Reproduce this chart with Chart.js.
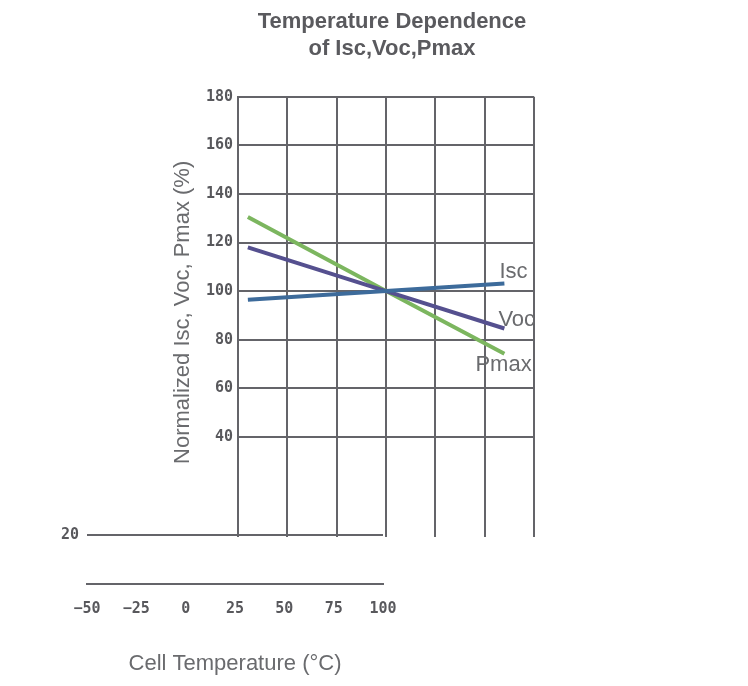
<!DOCTYPE html>
<html>
<head>
<meta charset="utf-8">
<script src="https://cdn.jsdelivr.net/npm/chart.js@4/dist/chart.umd.min.js"></script>
<style>
  html, body { margin: 0; padding: 0; background: #ffffff; }
  #wrap { position: relative; width: 748px; height: 686px; overflow: hidden; }
  canvas { position: absolute; left: 0; top: 0; }
</style>
</head>
<body>
<div id="wrap">
  <canvas id="main" width="748" height="686"></canvas>
  <canvas id="axis" width="748" height="686"></canvas>
</div>
<script>
// ---- data ----
const temperatures = [-45, 25, 85];
const iscValues  = [96.4, 100, 103.1];
const vocValues  = [118.0, 100, 84.6];
const pmaxValues = [130.5, 100, 74.2];
const seriesNames = ['Isc', 'Voc', 'Pmax'];
const yTicksShown = [40, 60, 80, 100, 120, 140, 160, 180];
const xTickLabels = [-50, -25, 0, 25, 50, 75, 100];
const titleLines = ['Temperature Dependence', 'of Isc,Voc,Pmax'];
const yTitle = ' Normalized Isc, Voc, Pmax (%)';
const xTitle = 'Cell Temperature (\u00B0C)';

// ---- styles ----
const GRID = '#646469';
const TICK_COLOR = '#58585c';
const TEXT_COLOR = '#6a6b6e';
const seriesColors = { Isc: '#3d6b9b', Voc: '#55508f', Pmax: '#7cb65f' };
const labelOffsets = { Isc: [-5, -12], Voc: [-6, -9], Pmax: [-29, 11] };
const tickFont = { family: 'DejaVu Sans Mono', size: 15, weight: 'bold' };
const textFamily = 'Liberation Sans, Arial, sans-serif';

const toPoints = vals => temperatures.map((t, i) => ({ x: t, y: vals[i] }));
const seriesValues = { Isc: iscValues, Voc: vocValues, Pmax: pmaxValues };

const endLabels = {
  id: 'endLabels',
  afterDatasetsDraw(chart) {
    const ctx = chart.ctx;
    ctx.save();
    ctx.font = '22px ' + textFamily;
    ctx.fillStyle = TEXT_COLOR;
    ctx.textAlign = 'left';
    ctx.textBaseline = 'middle';
    chart.data.datasets.forEach((ds, i) => {
      const meta = chart.getDatasetMeta(i);
      const last = meta.data[meta.data.length - 1];
      const off = labelOffsets[ds.label];
      ctx.fillText(ds.label, last.x + off[0], last.y + off[1]);
    });
    ctx.restore();
  }
};

new Chart(document.getElementById('main'), {
  type: 'line',
  data: {
    datasets: seriesNames.map(n => ({
      label: n,
      data: toPoints(seriesValues[n]),
      borderColor: seriesColors[n],
      backgroundColor: seriesColors[n],
      borderWidth: 4,
      pointRadius: 0,
      fill: false,
      tension: 0,
      xAxisID: 'x',
      yAxisID: 'y'
    }))
  },
  options: {
    responsive: false,
    animation: false,
    devicePixelRatio: 1,
    layout: { padding: { left: 36, right: 0, top: 0, bottom: 149 } },
    plugins: {
      legend: { display: false },
      tooltip: { enabled: false },
      title: {
        display: true,
        text: titleLines,
        color: '#5a5a5e',
        font: { family: textFamily, size: 22, weight: 'bold', lineHeight: 1.2 },
        padding: { top: 9, bottom: 35 }
      }
    },
    scales: {
      x: {
        type: 'linear',
        position: 'bottom',
        min: -50, max: 100,
        ticks: { stepSize: 25, display: false },
        grid: { color: GRID, lineWidth: 2, drawTicks: true, tickLength: 3 },
        border: { display: false },
        afterFit: s => { s.height = 3; }
      },
      y: {
        type: 'linear',
        position: 'left',
        min: 0, max: 180,
        ticks: {
          stepSize: 20,
          color: TICK_COLOR,
          font: tickFont,
          padding: 5,
          callback: v => yTicksShown.includes(v) ? String(v) : ''
        },
        grid: {
          color: c => (c.tick && yTicksShown.includes(c.tick.value)) ? GRID : 'rgba(0,0,0,0)',
          lineWidth: 2,
          drawTicks: false
        },
        border: { display: true, color: GRID, width: 2 },
        title: {
          display: true,
          text: yTitle,
          color: TEXT_COLOR,
          font: { family: textFamily, size: 22 },
          padding: { top: 134, bottom: 0 }
        },
        afterFit: s => { s.width = 202; }
      },
      yR: {
        type: 'linear',
        position: 'right',
        display: true,
        ticks: { display: false },
        grid: { display: false },
        border: { display: false },
        afterFit: s => { s.width = 214; }
      }
    }
  },
  plugins: [endLabels]
});

new Chart(document.getElementById('axis'), {
  type: 'line',
  data: { datasets: [] },
  options: {
    responsive: false,
    animation: false,
    devicePixelRatio: 1,
    events: [],
    layout: { padding: { left: 47, right: 365, top: 535, bottom: 0 } },
    plugins: { legend: { display: false }, tooltip: { enabled: false }, title: { display: false } },
    scales: {
      x: {
        type: 'linear',
        position: 'bottom',
        min: -50, max: 100,
        afterBuildTicks: s => { s.ticks = xTickLabels.map(v => ({ value: v })); },
        ticks: {
          color: TICK_COLOR,
          font: tickFont,
          padding: 8,
          maxRotation: 0,
          callback: v => String(v).replace('-', '\u2212')
        },
        grid: { display: false },
        border: { display: true, color: GRID, width: 2 },
        title: {
          display: true,
          text: xTitle,
          color: TEXT_COLOR,
          font: { family: textFamily, size: 22 },
          padding: { top: 0, bottom: 9 }
        },
        afterFit: s => { s.height = 102; }
      },
      y: {
        type: 'linear',
        position: 'left',
        min: 0, max: 20,
        ticks: {
          stepSize: 20,
          color: TICK_COLOR,
          font: tickFont,
          padding: 8,
          callback: v => v === 20 ? '20' : ''
        },
        grid: {
          color: c => (c.tick && c.tick.value === 20) ? GRID : 'rgba(0,0,0,0)',
          lineWidth: 2,
          drawTicks: false
        },
        border: { display: false },
        afterFit: s => { s.width = 40; }
      }
    }
  }
});
</script>
</body>
</html>
